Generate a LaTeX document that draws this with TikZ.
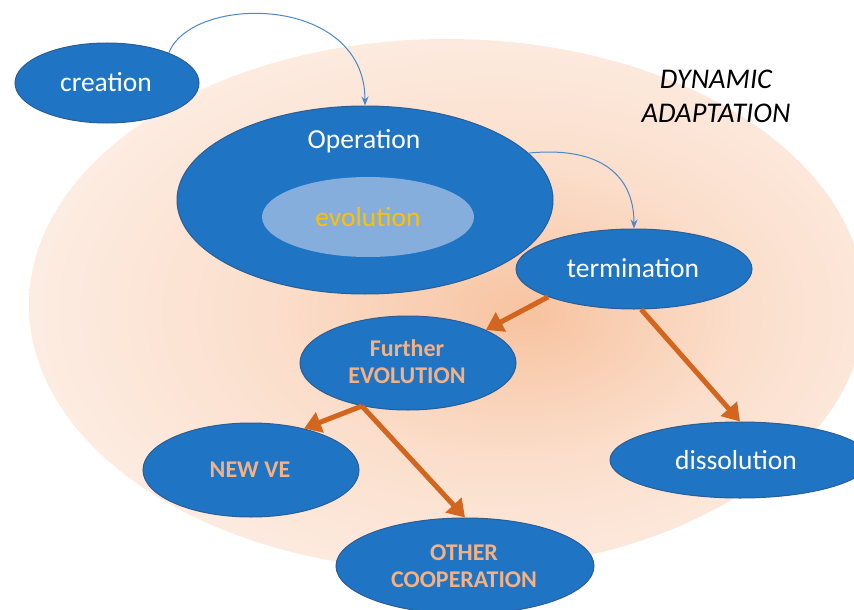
\documentclass[tikz,border=0pt]{standalone}
\usepackage{fontspec}
\setmainfont{Carlito}
\usetikzlibrary{shapes.geometric,arrows.meta}
\definecolor{nodeblue}{HTML}{1F74C4}
\definecolor{nodeedge}{HTML}{2A5E95}
\definecolor{innerblue}{HTML}{86AEDC}
\definecolor{gold}{HTML}{FFC000}
\definecolor{peachtxt}{HTML}{F4B183}
\definecolor{arrorange}{HTML}{D3661F}
\definecolor{linkblue}{HTML}{4A88CC}
\definecolor{bgA}{HTML}{F7C3A0}
\definecolor{bgB}{HTML}{FBDECB}
\definecolor{bgC}{HTML}{FDEDE3}
\definecolor{bgD}{HTML}{FEF5F0}
\pgfdeclareradialshading{bgshade}{\pgfpoint{5bp}{-1bp}}{%
  color(0bp)=(bgA); color(14bp)=(bgB); color(28bp)=(bgC); color(50bp)=(bgD)}
\tikzset{
  blob/.style={ellipse, draw=nodeedge, line width=1pt, fill=nodeblue, inner sep=0pt},
  whitetxt/.style={text=white, font=\fontsize{27.5}{30}\selectfont},
  peach/.style={text=peachtxt, font=\bfseries\fontsize{24}{27}\selectfont, align=center},
  thinarrow/.style={draw=linkblue, line width=1pt, -{Stealth[length=9pt,width=7pt]}},
  thickarrow/.style={draw=arrorange, line width=5pt, -{Triangle[length=17pt,width=21pt]}}
}
\begin{document}
\begin{tikzpicture}[x=1pt,y=-1pt]
\useasboundingbox (0,0) rectangle (854,610);
\clip (0,0) rectangle (854,610);
\fill[white] (0,0) rectangle (854,610);
% background
\shade[shading=bgshade] (447,305) ellipse [x radius=418, y radius=266];
% nodes
\node[blob, minimum width=184pt, minimum height=80pt] (creation) at (107,83) {};
\node[whitetxt] (creationtxt) at (106,82) {creation};
\node[blob, minimum width=376pt, minimum height=188pt] (operation) at (365,200) {};
\node[whitetxt] (operationtxt) at (364,141) {Operation};
\node[ellipse, fill=innerblue, inner sep=0pt, minimum width=212pt, minimum height=80pt] (evolution) at (368,217) {};
\node[text=gold, font=\fontsize{27.5}{30}\selectfont] (evolutiontxt) at (368,217) {evolution};
\node[blob, minimum width=236pt, minimum height=80pt] (termination) at (634,269) {};
\node[whitetxt] (terminationtxt) at (633,268) {termination};
\node[blob, minimum width=216pt, minimum height=94pt] (further) at (408,363) {};
\node[peach] (furthertxt) at (407,362) {Further\\EVOLUTION};
\node[blob, minimum width=216pt, minimum height=94pt] (newve) at (251,470) {};
\node[peach] (newvetxt) at (250,470) {NEW VE};
\node[blob, minimum width=260pt, minimum height=76pt] (dissolution) at (740,460) {};
\node[whitetxt] (dissolutiontxt) at (736,460) {dissolution};
\node[blob, minimum width=258pt, minimum height=96pt] (other) at (465,566) {};
\node[peach] (othertxt) at (464,566) {OTHER\\COOPERATION};
% title
\node[font=\itshape\fontsize{28.5}{34}\selectfont, align=center] (title) at (716,96) {DYNAMIC\\ADAPTATION};
% thin connectors
\draw[thinarrow] (creation.26) .. controls (192,-6) and (365,-6) .. (operation.north);
\draw[thinarrow] (operation.16) .. controls (600,146) and (634,175) .. (termination.north);
% thick connectors
\coordinate (fsplit) at (further.223);
\draw[thickarrow] (termination.198) -- (further.23);
\draw[thickarrow] (termination.-80) -- (dissolution.north);
\draw[thickarrow] (fsplit) -- (newve.38);
\draw[thickarrow] (fsplit) -- (other.north);
\end{tikzpicture}
\end{document}
